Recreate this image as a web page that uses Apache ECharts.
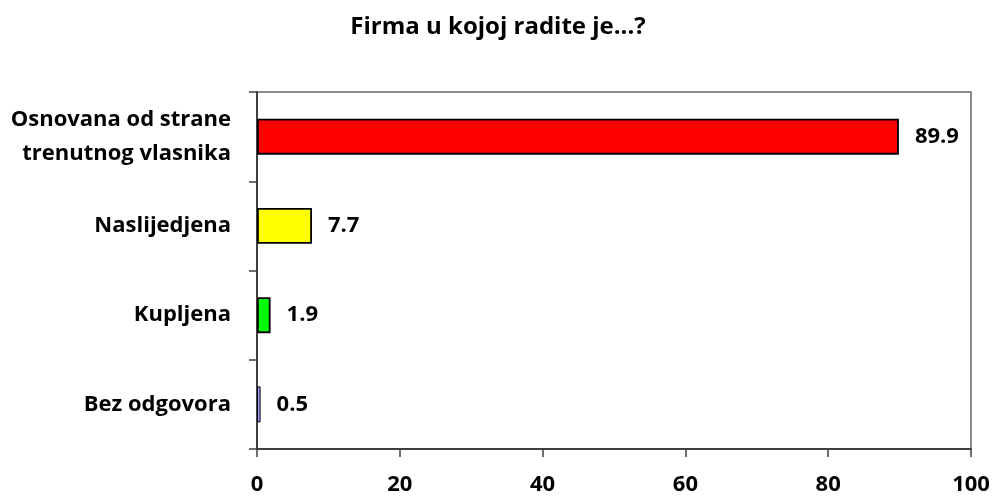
<!DOCTYPE html>
<html>
<head>
<meta charset="utf-8">
<script src="https://cdn.jsdelivr.net/npm/echarts@6/dist/echarts.min.js"></script>
<style>
  html, body { margin: 0; padding: 0; background: #fff; }
  #chart { width: 996px; height: 496px; }
</style>
</head>
<body>
<div id="chart"></div>
<script>
const categories = ['Osnovana od strane\ntrenutnog vlasnika', 'Naslijedjena', 'Kupljena', 'Bez odgovora'];
const values = [89.9, 7.7, 1.9, 0.5];
const barColors = ['#ff0000', '#ffff00', '#00ff00', '#9999ff'];
const xTicks = [0, 20, 40, 60, 80, 100];

const font = '"Open Sans", sans-serif';
const chart = echarts.init(document.getElementById('chart'));

chart.setOption({
  animation: false,
  title: {
    text: 'Firma u kojoj radite je...?',
    left: 'center',
    top: 10,
    textStyle: { fontFamily: font, fontSize: 24, fontWeight: 'bold', color: '#000' }
  },
  grid: {
    left: 257,
    right: 25,
    top: 92,
    bottom: 46,
    show: true,
    borderColor: '#8c8c8c',
    borderWidth: 2
  },
  xAxis: {
    type: 'value',
    min: xTicks[0],
    max: xTicks[xTicks.length - 1],
    interval: 20,
    splitLine: { show: false },
    axisLine: { show: true, lineStyle: { color: '#404040', width: 2 } },
    axisTick: { show: true, length: 8, lineStyle: { color: '#404040', width: 1.5 } },
    axisLabel: {
      margin: 25,
      fontFamily: font, fontSize: 22, fontWeight: 'bold', color: '#000'
    }
  },
  yAxis: {
    type: 'category',
    inverse: true,
    data: categories,
    axisLine: { show: true, lineStyle: { color: '#404040', width: 2 } },
    axisTick: { show: true, length: 8, lineStyle: { color: '#404040', width: 1.5 } },
    axisLabel: {
      margin: 26,
      align: 'right',
      lineHeight: 34,
      fontFamily: font, fontSize: 22, fontWeight: 'bold', color: '#000'
    }
  },
  series: [{
    type: 'bar',
    barWidth: 36,
    data: values.map((v, i) => ({
      value: v,
      itemStyle: {
        color: barColors[i],
        borderColor: '#000',
        borderWidth: v < 1 ? 1 : 1.8
      }
    })),
    label: {
      show: true,
      position: 'right',
      distance: 16,
      fontFamily: font, fontSize: 22, fontWeight: 'bold', color: '#000',
      formatter: p => p.value.toFixed(1)
    }
  }]
});
</script>
</body>
</html>
